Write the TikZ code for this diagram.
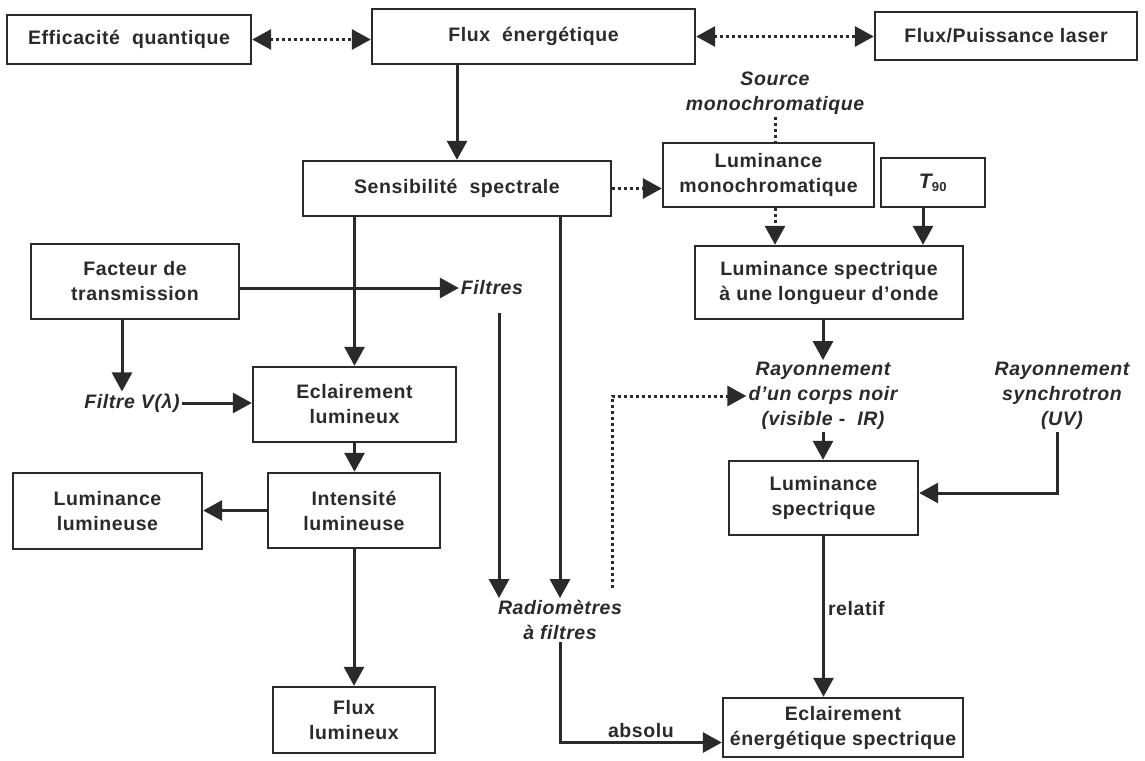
\documentclass[tikz,border=0pt]{standalone}
\usepackage{fontspec}
\setmainfont{Liberation Sans}[LetterSpace=3]
\usetikzlibrary{arrows.meta,calc}
\definecolor{ink}{HTML}{2A2A2A}
\begin{document}
\begin{tikzpicture}[x=1pt,y=-1pt,
  every node/.style={font=\bfseries\fontsize{19.5}{25}\selectfont, text=ink},
  box/.style={draw=ink, line width=2.4pt, align=center, inner sep=0pt},
  lbl/.style={font=\bfseries\itshape\fontsize{19.5}{25}\selectfont, align=center, inner sep=2pt},
  tag/.style={font=\bfseries\fontsize{19.5}{25}\selectfont, inner sep=3pt},
  arr/.style={draw=ink, line width=3pt, -{Triangle[length=19pt,width=20pt]}},
  darr/.style={draw=ink, line width=3pt, dash pattern=on 3pt off 3pt, -{Triangle[length=19pt,width=20pt]}},
  dline/.style={draw=ink, line width=3pt, dash pattern=on 3pt off 3pt},
  ddarr/.style={draw=ink, line width=3pt, dash pattern=on 3pt off 3pt, {Triangle[length=19pt,width=20pt]}-{Triangle[length=19pt,width=20pt]}}
]
\useasboundingbox (0,0) rectangle (1145,760);

% boxes
\node[box, minimum width=244pt, minimum height=49pt] (eq) at (129,39.5) {Efficacité\ \ quantique};
\node[box, minimum width=323pt, minimum height=55pt] (fe) at (533.5,36.5) {Flux\ \ énergétique};
\node[box, minimum width=262pt, minimum height=48pt] (fpl) at (1006,36) {Flux/Puissance laser};
\node[box, minimum width=308pt, minimum height=55pt] (ss) at (457,188.5) {Sensibilité\ \ spectrale};
\node[lbl] (src) at (775,93) {Source\\monochromatique};
\node[box, minimum width=211pt, minimum height=64pt] (lm) at (768.5,175) {Luminance\\monochromatique};
\node[box, minimum width=104pt, minimum height=49pt] (t90) at (933,182.5) {\itshape\fontsize{21}{25}\selectfont T\textsubscript{\upshape\fontsize{13}{13}\selectfont 90}};
\node[box, minimum width=268pt, minimum height=73pt] (lso) at (829,282.5) {Luminance spectrique\\à une longueur d'onde};
\node[lbl] (rcn) at (823,396) {Rayonnement\\d'un corps noir\\(visible -\ \ IR)};
\node[box, minimum width=189pt, minimum height=74pt] (lsp) at (823.5,498) {Luminance\\spectrique};
\node[lbl] (rsy) at (1062,396) {Rayonnement\\synchrotron\\(UV)};
\node[box, minimum width=240pt, minimum height=59pt] (ees) at (843,727.5) {Eclairement\\énergétique spectrique};
\node[lbl] (rad) at (560,620) {Radiomètres\\à filtres};
\node[box, minimum width=208pt, minimum height=75pt] (ft) at (135,281.5) {Facteur de\\transmission};
\node[lbl] (fil) at (492,288) {Filtres};
\node[lbl] (fv) at (132,403) {Filtre V(λ)};
\node[box, minimum width=203pt, minimum height=75pt] (el) at (354.5,404.5) {Eclairement\\lumineux};
\node[box, minimum width=172pt, minimum height=75pt] (il) at (354,510.5) {Intensité\\lumineuse};
\node[box, minimum width=189pt, minimum height=76pt] (ll) at (107.5,511) {Luminance\\lumineuse};
\node[box, minimum width=162pt, minimum height=66pt] (fl) at (354,720) {Flux\\lumineux};

% top row
\draw[ddarr] (eq.east) -- (eq.east -| fe.west);
\draw[ddarr] (fe.east) -- (fe.east -| fpl.west);
\draw[arr] (ss.north |- fe.south) -- (ss.north);

% right side
\draw[darr] (ss.east) -- (ss.east -| lm.west);
\draw[dline] (src.south) -- (src.south |- lm.north);
\draw[darr] (src.south |- lm.south) -- (src.south |- lso.north);
\draw[arr] ([xshift=-10pt]t90.south) -- ([xshift=-10pt]t90.south |- lso.north);
\draw[arr] (rcn.north |- lso.south) -- (rcn.north);
\draw[arr] (rcn.south) -- (rcn.south |- lsp.north);
\draw[arr] ([xshift=-5pt]rsy.south) |- ([yshift=5pt]lsp.east);
\draw[arr] (lsp.south) -- node[tag, right, pos=0.45] {relatif} (lsp.south |- ees.north);
\draw[arr] (rad.south) |- node[tag, above, pos=0.75] {absolu} ([yshift=-15pt]ees.west);
\coordinate (radtop) at (612,588);
\draw[darr] (radtop) |- (rcn.west);

% middle verticals
\draw[arr] (ss.south -| rad.north) -- (rad.north);
\coordinate (filb) at (499,313);
\draw[arr] (filb) -- (filb |- rad.north);

% left side
\draw[arr] (ft.east |- fil.west) -- (fil.west);
\draw[arr] (el.north |- ss.south) -- (el.north);
\draw[arr] ([xshift=-13pt]ft.south) -- ([xshift=-13pt]ft.south |- fv.north);
\draw[arr] (fv.east) -- (fv.east -| el.west);
\draw[arr] (el.south) -- (el.south |- il.north);
\draw[arr] (il.west) -- (il.west -| ll.east);
\draw[arr] (il.south) -- (il.south |- fl.north);
\end{tikzpicture}
\end{document}
